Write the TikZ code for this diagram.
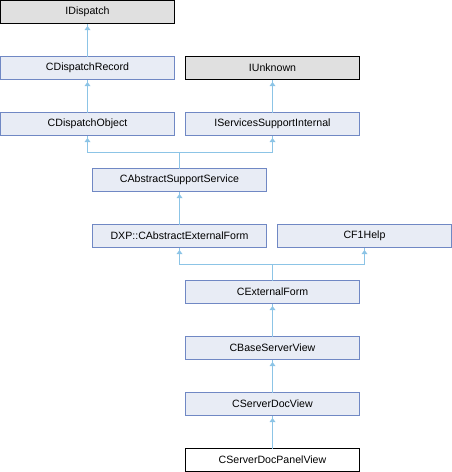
\documentclass[tikz,border=0pt]{standalone}
\usepackage{fontspec}
\setmainfont{Liberation Sans}
\usetikzlibrary{calc}
\definecolor{boxfill}{HTML}{E8ECF5}
\definecolor{boxline}{HTML}{7088C4}
\definecolor{greyfill}{HTML}{E0E0E0}
\definecolor{edgecol}{HTML}{8CC4E6}
\tikzset{
  cls/.style={draw=boxline, fill=boxfill, line width=1pt, minimum width=174pt, minimum height=23pt, inner sep=0pt, outer sep=0pt, font=\fontsize{10.6}{12}\selectfont},
  ext/.style={cls, draw=black, fill=greyfill},
  cur/.style={cls, draw=black, fill=white},
  edge/.style={draw=edgecol, line width=1pt},
  tipup/.pic={\fill[edgecol] (0,0) -- (-3,4) -- (3,4) -- cycle;}
}
\begin{document}
\begin{tikzpicture}[x=1pt,y=-1pt]
\useasboundingbox (0,0) rectangle (452,472);
% columns: A=87.5, B=272.5, C=179.5, D=364.5
\node[ext] (idisp) at (87.5,12) {IDispatch};
\node[cls] (cdr) at (87.5,68) {CDispatchRecord};
\node[ext] (iunk) at (272.5,68) {IUnknown};
\node[cls] (cdo) at (87.5,124) {CDispatchObject};
\node[cls] (issi) at (272.5,124) {IServicesSupportInternal};
\node[cls] (cass) at (179.5,180) {CAbstractSupportService};
\node[cls] (dxp) at (179.5,236) {DXP::CAbstractExternalForm};
\node[cls] (cf1) at (364.5,236) {CF1Help};
\node[cls] (cef) at (272.5,292) {CExternalForm};
\node[cls] (cbsv) at (272.5,348) {CBaseServerView};
\node[cls] (csdv) at (272.5,404) {CServerDocView};
\node[cur] (csdpv) at (272.5,460) {CServerDocPanelView};
\coordinate (j1) at (179.5,152);
\coordinate (j2) at (272.5,264);
% connectors
\draw[edge] (cdr.north) -- (idisp.south);
\draw[edge] (cdo.north) -- (cdr.south);
\draw[edge] (issi.north) -- (iunk.south);
\draw[edge] (cass.north) -- (j1);
\draw[edge] (j1) -| (cdo.south);
\draw[edge] (j1) -| (issi.south);
\draw[edge] (dxp.north) -- (cass.south);
\draw[edge] (cef.north) -- (j2);
\draw[edge] (j2) -| (dxp.south);
\draw[edge] (j2) -| (cf1.south);
\draw[edge] (cbsv.north) -- (cef.south);
\draw[edge] (csdv.north) -- (cbsv.south);
\draw[edge] (csdpv.north) -- (csdv.south);
% arrowheads
\foreach \n in {idisp,cdr,iunk,cdo,issi,cass,dxp,cf1,cef,cbsv,csdv}
  \pic at ($(\n.south)+(0,2.5)$) {tipup};
\end{tikzpicture}
\end{document}
